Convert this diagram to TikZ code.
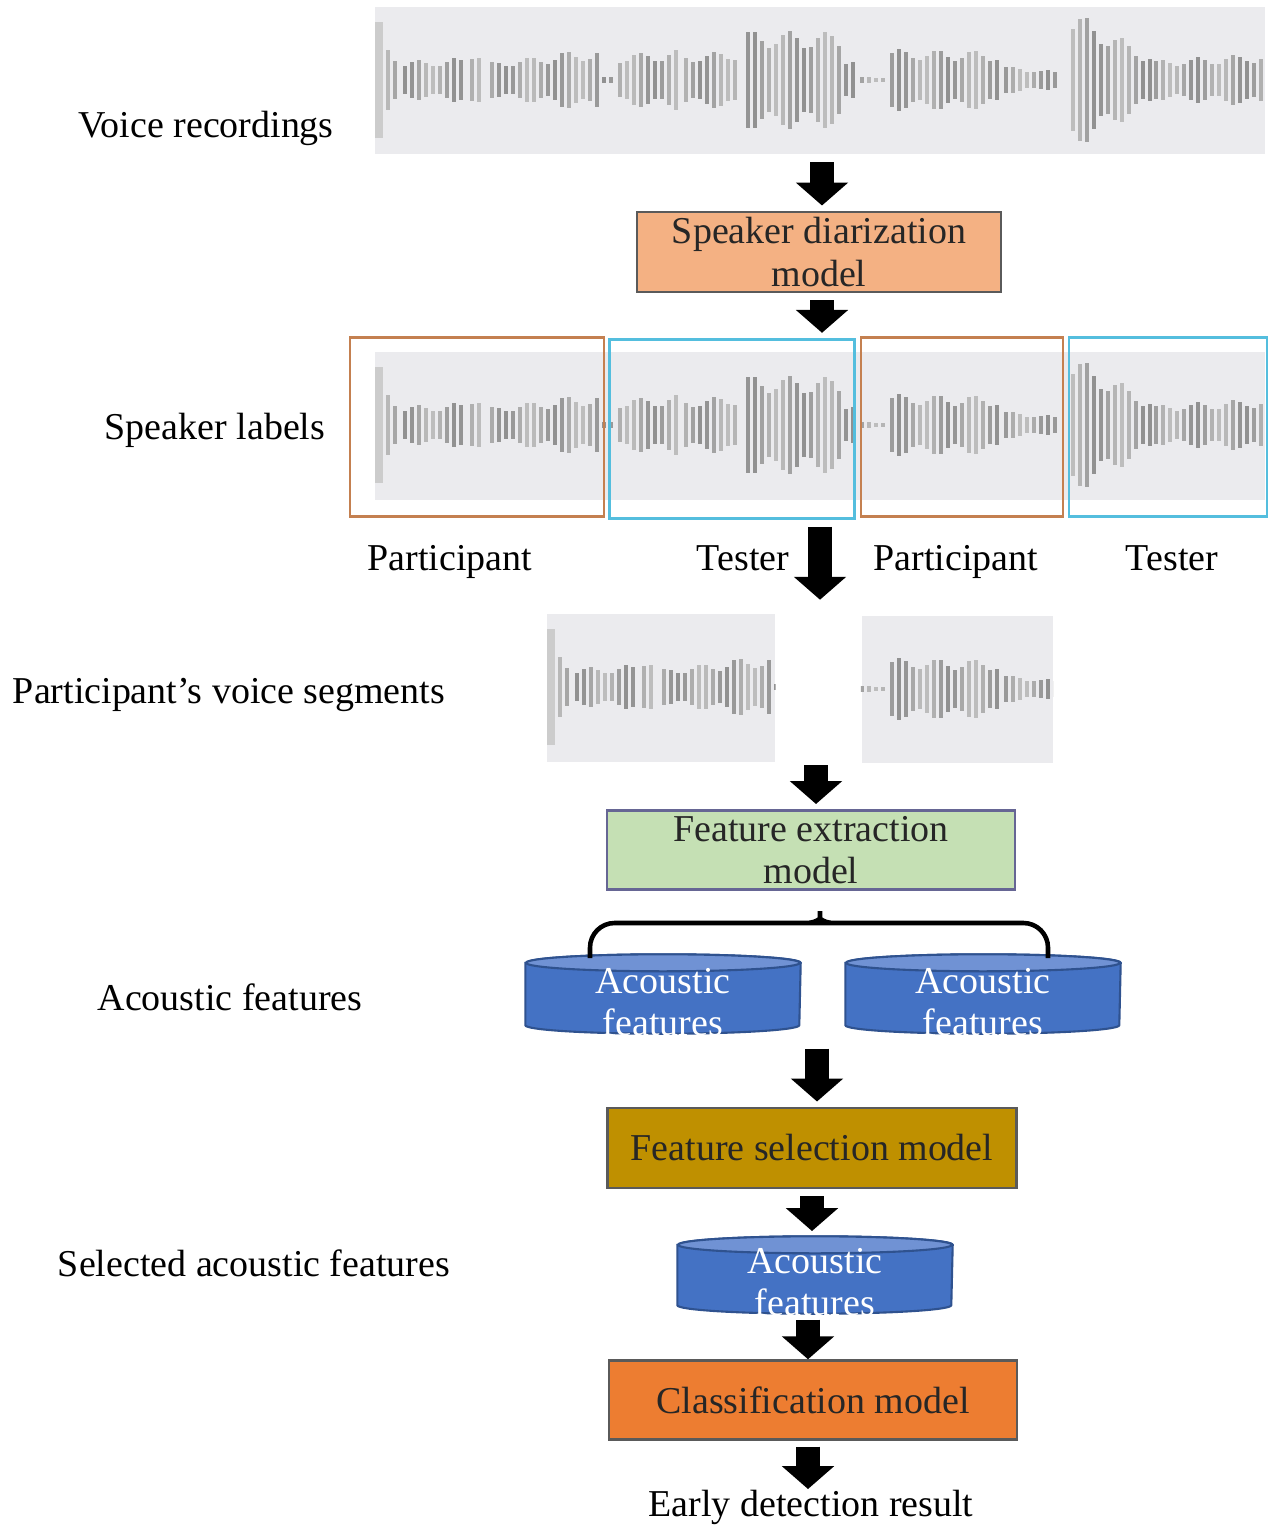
\documentclass[tikz,border=0pt]{standalone}
\usepackage{fontspec}
\setmainfont{Liberation Serif}
\usetikzlibrary{arrows.meta,calc}
\definecolor{wavebg}{RGB}{235,235,238}
\definecolor{diarorange}{RGB}{244,177,131}
\definecolor{extgreen}{RGB}{197,224,180}
\definecolor{selgold}{RGB}{191,144,0}
\definecolor{clsorange}{RGB}{237,125,49}
\definecolor{cylblue}{RGB}{68,114,196}
\definecolor{cyltop}{RGB}{112,146,212}
\definecolor{cylline}{RGB}{47,82,143}
\definecolor{partorange}{RGB}{196,128,80}
\definecolor{testcyan}{RGB}{84,190,222}
\definecolor{boxline}{RGB}{90,90,90}

% waveform bars, x in px, centred on y=0
\newcommand{\wavebars}{%
  \fill[black!20] (375,-58) rectangle (383,58);
  \foreach \xa/\xb/\ha/\hb in {388/398/34/28, 405/465/19/22, 472/485/32/30, 492/555/18/26,
      562/598/28/30, 604/614/3/3, 620/680/26/30, 686/740/26/30, 748/840/50/48, 846/856/24/22,
      862/884/3/3, 892/1000/31/29, 1006/1060/14/9, 1073/1150/70/26, 1156/1262/20/27}{
    \pgfmathtruncatemacro{\nb}{(\xb-\xa)/7}
    \foreach \i in {0,...,\nb}{
      \pgfmathsetmacro{\xx}{\xa+7*\i}
      \pgfmathsetmacro{\hh}{(\ha+(\hb-\ha)*\i/max(\nb,1))*(0.82+0.18*sin(\xx*9.7))}
      \pgfmathtruncatemacro{\gs}{35+9*sin(\xx*7.3)}
      \fill[black!\gs] (\xx-2.2,-\hh) rectangle (\xx+2.2,\hh);
    }}}

% cylinder drawn round an empty node
\newcommand{\drawcyl}[1]{%
  \filldraw[fill=cylblue, draw=cylline, line width=0.6pt]
    ([yshift=-0.085cm]#1.north west) -- ([yshift=0.085cm]#1.south west)
    arc[start angle=180, end angle=360, x radius=1.37cm, y radius=0.085cm]
    -- ([yshift=-0.085cm]#1.north east)
    arc[start angle=0, end angle=180, x radius=1.37cm, y radius=0.085cm] -- cycle;
  \filldraw[fill=cyltop, draw=cylline, line width=0.6pt]
    ([yshift=-0.085cm]#1.north) ellipse[x radius=1.37cm, y radius=0.085cm];}

\begin{document}
\begin{tikzpicture}[x=0.1mm, y=-0.1mm, font=\fontsize{10.8}{12}\selectfont,
    wavebox/.style={fill=wavebg, inner sep=0pt},
    modelbox/.style={draw=boxline, line width=0.7pt, align=center, inner sep=0pt, text=black!85},
    spkbox/.style={draw, line width=0.8pt, inner sep=0pt, minimum height=1.79cm},
    spklabel/.style={anchor=base},
    cylbox/.style={inner sep=0pt, minimum width=2.74cm, minimum height=0.78cm},
    cyltext/.style={text=white, align=center, inner sep=0pt},
    blockarrow/.style={line width=7pt, -{Triangle[width=14.5pt,length=6.5pt]}, shorten <=2pt, shorten >=1.5pt}]
  \useasboundingbox (0,0) rectangle (1269,1526);

  % Voice recordings
  \node (vr) at (206,128) {Voice recordings};
  \node[wavebox, minimum width=8.9cm, minimum height=1.47cm] (rec) at (820,81) {};
  \begin{scope}[shift={(0,80)}]
    \wavebars
  \end{scope}

  % Diarization
  \coordinate (ax) at (822,0);
  \node[modelbox, fill=diarorange, minimum width=3.64cm, minimum height=0.8cm] (diar) at (819,252) {Speaker diarization\\model};
  \draw[blockarrow] (rec.south -| ax) -- (diar.north -| ax);

  % Speaker labels
  \node (sl) at (215,430) {Speaker labels};
  \node[wavebox, minimum width=8.9cm, minimum height=1.48cm] (row) at (820,426) {};
  \begin{scope}
    \clip (row.south west) rectangle (row.north east);
    \begin{scope}[shift={(0,425)}]
      \wavebars
    \end{scope}
  \end{scope}
  \node[spkbox, draw=partorange, minimum width=2.54cm] (sp1) at (477,427) {};
  \node[spkbox, draw=testcyan, minimum width=2.45cm] (sp2) at (732,429) {};
  \node[spkbox, draw=partorange, minimum width=2.02cm] (sp3) at (962,427) {};
  \node[spkbox, draw=testcyan, minimum width=1.98cm] (sp4) at (1168,427) {};
  \draw[blockarrow] (diar.south -| ax) -- (sp2.north -| ax);
  \node[spklabel] (p1) at (450,570) {Participant};
  \node[spklabel] (t1) at (743,570) {Tester};
  \node[spklabel] (p2) at (956,570) {Participant};
  \node[spklabel] (t2) at (1172,570) {Tester};

  % Participant segments
  \node (ps) at (229,695) {Participant’s voice segments};
  \node[wavebox, minimum width=2.28cm, minimum height=1.48cm] (seg1) at (661,688) {};
  \node[wavebox, minimum width=1.91cm, minimum height=1.47cm] (seg2) at (957,689) {};
  \begin{scope}
    \clip (seg1.south west) rectangle (seg1.north east);
    \begin{scope}[shift={(172,687)}]
      \wavebars
    \end{scope}
  \end{scope}
  \begin{scope}
    \clip (seg2.south west) rectangle (seg2.north east);
    \begin{scope}[shift={(0,689)}]
      \wavebars
    \end{scope}
  \end{scope}
  \coordinate (segtop) at (820,605);
  \coordinate (segbot) at (816,758);
  \draw[blockarrow] (sp2.south -| segtop) -- (segtop);

  % Feature extraction
  \node[modelbox, fill=extgreen, draw=black!70!blue!60, minimum width=4.08cm, minimum height=0.79cm] (fext) at (811,850) {Feature extraction\\model};
  \draw[blockarrow] (segbot) -- (fext.north -| segbot);

  % Acoustic features
  \node (afl) at (230,997) {Acoustic features};
  \node[cylbox] (af1) at (663,994) {};
  \node[cylbox] (af2) at (983,994) {};
  \drawcyl{af1}
  \drawcyl{af2}
  \node[cyltext] (af1t) at (663,1002) {Acoustic\\features};
  \node[cyltext] (af2t) at (983,1002) {Acoustic\\features};
  \coordinate (bl) at (590,958);
  \coordinate (br) at (1048,958);
  \draw[line width=1.3pt, rounded corners=7] (bl) |- (810,923) .. controls (820,923) and (820,915) .. ($(fext.south)+(9,6)$)
    .. controls (820,915) and (820,923) .. (830,923) -| (br);

  % Feature selection
  \node[modelbox, fill=selgold, minimum width=4.09cm, minimum height=0.8cm] (fsel) at (812,1148) {Feature selection model};
  \draw[blockarrow] ($(fsel.north |- af1.south)+(5,8)$) -- ($(fsel.north)+(5,0)$);

  % Selected features
  \node (sal) at (254,1263) {Selected acoustic features};
  \node[cylbox, minimum height=0.76cm] (af3) at (815,1275) {};
  \drawcyl{af3}
  \node[cyltext] (af3t) at (815,1282) {Acoustic\\features};
  \draw[blockarrow] (fsel.south) -- (af3.north -| fsel.south);

  % Classification
  \node[modelbox, fill=clsorange, minimum width=4.08cm, minimum height=0.79cm] (cls) at (813,1400) {Classification model};
  \draw[blockarrow, shorten <=0pt, shorten >=0pt] ($(af3.south)+(-7,6)$) -- ($(cls.north)+(-5,0)$);
  \node[inner sep=0pt] (res) at (811,1507) {Early detection result};
  \draw[blockarrow, shorten <=0pt, shorten >=0pt] ($(cls.south)+(-5,6)$) -- ($(res.north)+(-3,0)$);
\end{tikzpicture}
\end{document}
